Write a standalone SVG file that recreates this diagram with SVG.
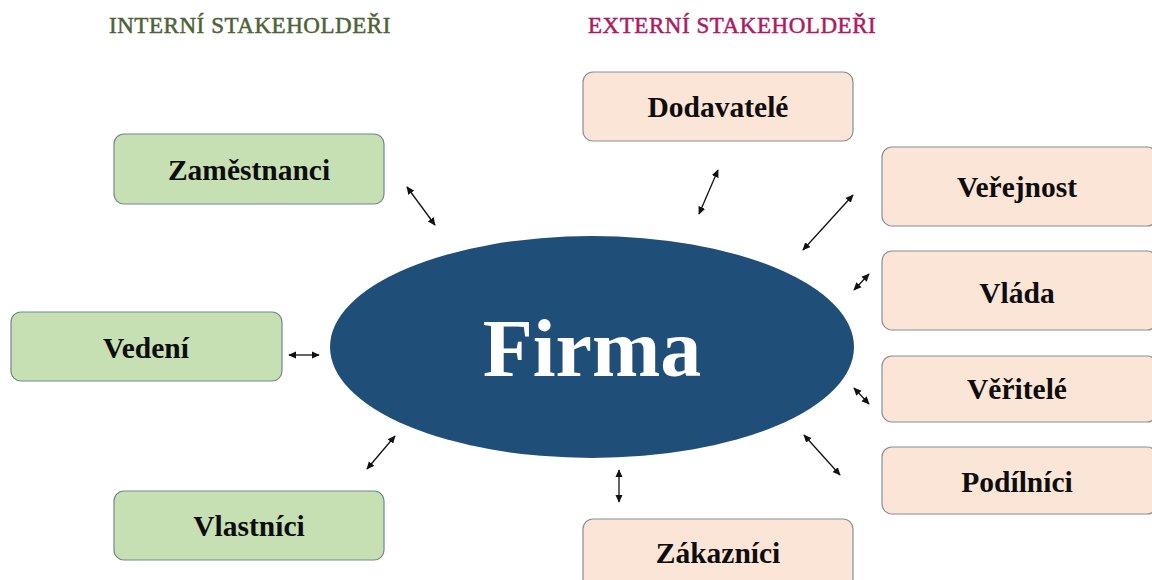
<svg xmlns="http://www.w3.org/2000/svg" width="1152" height="580" viewBox="0 0 1152 580">
  <style>
    .title { font-family: "Liberation Serif", "Times New Roman", serif; font-size: 23px; letter-spacing: 0.55px; stroke-width: 0.5px; }
    .internal rect { fill: #c6e0b4; stroke: #6e8a8c; stroke-width: 1.2; }
    .external rect { fill: #fbe5d6; stroke: #8a8f96; stroke-width: 1.2; }
    .label { font-family: "Liberation Serif", "Times New Roman", serif; font-size: 29.5px; font-weight: bold; fill: #0d0d0d; text-anchor: middle; }
    .link { stroke: #111; stroke-width: 1.3; fill: none; marker-start: url(#head); marker-end: url(#head); }
  </style>
  <defs>
    <marker id="head" viewBox="0 0 10 10" refX="9" refY="5" markerWidth="8" markerHeight="8" markerUnits="userSpaceOnUse" orient="auto-start-reverse">
      <path d="M0,0.5 L10,5 L0,9.5 z" fill="#111"/>
    </marker>
  </defs>
  <rect width="1152" height="580" fill="#ffffff"/>

  <text class="title" x="109" y="33" fill="#4c6338" stroke="#4c6338">INTERNÍ STAKEHOLDEŘI</text>
  <text class="title" x="588" y="33" fill="#ad1a5f" stroke="#ad1a5f">EXTERNÍ STAKEHOLDEŘI</text>

  <!-- central company -->
  <g id="firma">
    <ellipse cx="592" cy="347" rx="262" ry="111" fill="#1f4e79"/>
    <text x="592" y="376" font-family="Liberation Serif, Times New Roman, serif" font-size="82" font-weight="bold" fill="#ffffff" text-anchor="middle">Firma</text>
  </g>

  <!-- internal stakeholders -->
  <g id="zamestnanci" class="internal">
    <rect x="114" y="134" width="270" height="70" rx="10"/>
    <text class="label" x="249" y="180">Zaměstnanci</text>
  </g>
  <g id="vedeni" class="internal">
    <rect x="11" y="312" width="271" height="69" rx="10"/>
    <text class="label" x="146" y="358">Vedení</text>
  </g>
  <g id="vlastnici" class="internal">
    <rect x="114" y="491" width="270" height="69" rx="10"/>
    <text class="label" x="249" y="536">Vlastníci</text>
  </g>

  <!-- external stakeholders -->
  <g id="dodavatele" class="external">
    <rect x="583" y="72" width="270" height="69" rx="10"/>
    <text class="label" x="718" y="117">Dodavatelé</text>
  </g>
  <g id="verejnost" class="external">
    <rect x="882" y="147" width="275" height="79" rx="10"/>
    <text class="label" x="1017" y="197">Veřejnost</text>
  </g>
  <g id="vlada" class="external">
    <rect x="882" y="251" width="275" height="79" rx="10"/>
    <text class="label" x="1017" y="303">Vláda</text>
  </g>
  <g id="veritele" class="external">
    <rect x="882" y="356" width="275" height="66" rx="10"/>
    <text class="label" x="1017" y="399">Věřitelé</text>
  </g>
  <g id="podilnici" class="external">
    <rect x="882" y="447" width="275" height="67" rx="10"/>
    <text class="label" x="1017" y="492">Podílníci</text>
  </g>
  <g id="zakaznici" class="external">
    <rect x="583" y="519" width="270" height="80" rx="10"/>
    <text class="label" x="718" y="563">Zákazníci</text>
  </g>

  <!-- two-way relations -->
  <g id="connectors">
    <line class="link" x1="407" y1="187" x2="435" y2="225"/>
    <line class="link" x1="289" y1="355" x2="319" y2="355"/>
    <line class="link" x1="367" y1="469" x2="395" y2="436"/>
    <line class="link" x1="699" y1="214" x2="718" y2="170"/>
    <line class="link" x1="803" y1="250" x2="853" y2="195"/>
    <line class="link" x1="854" y1="290" x2="869" y2="274"/>
    <line class="link" x1="854" y1="388" x2="869" y2="404"/>
    <line class="link" x1="804" y1="435" x2="840" y2="475"/>
    <line class="link" x1="619" y1="470" x2="619" y2="502"/>
  </g>
</svg>
